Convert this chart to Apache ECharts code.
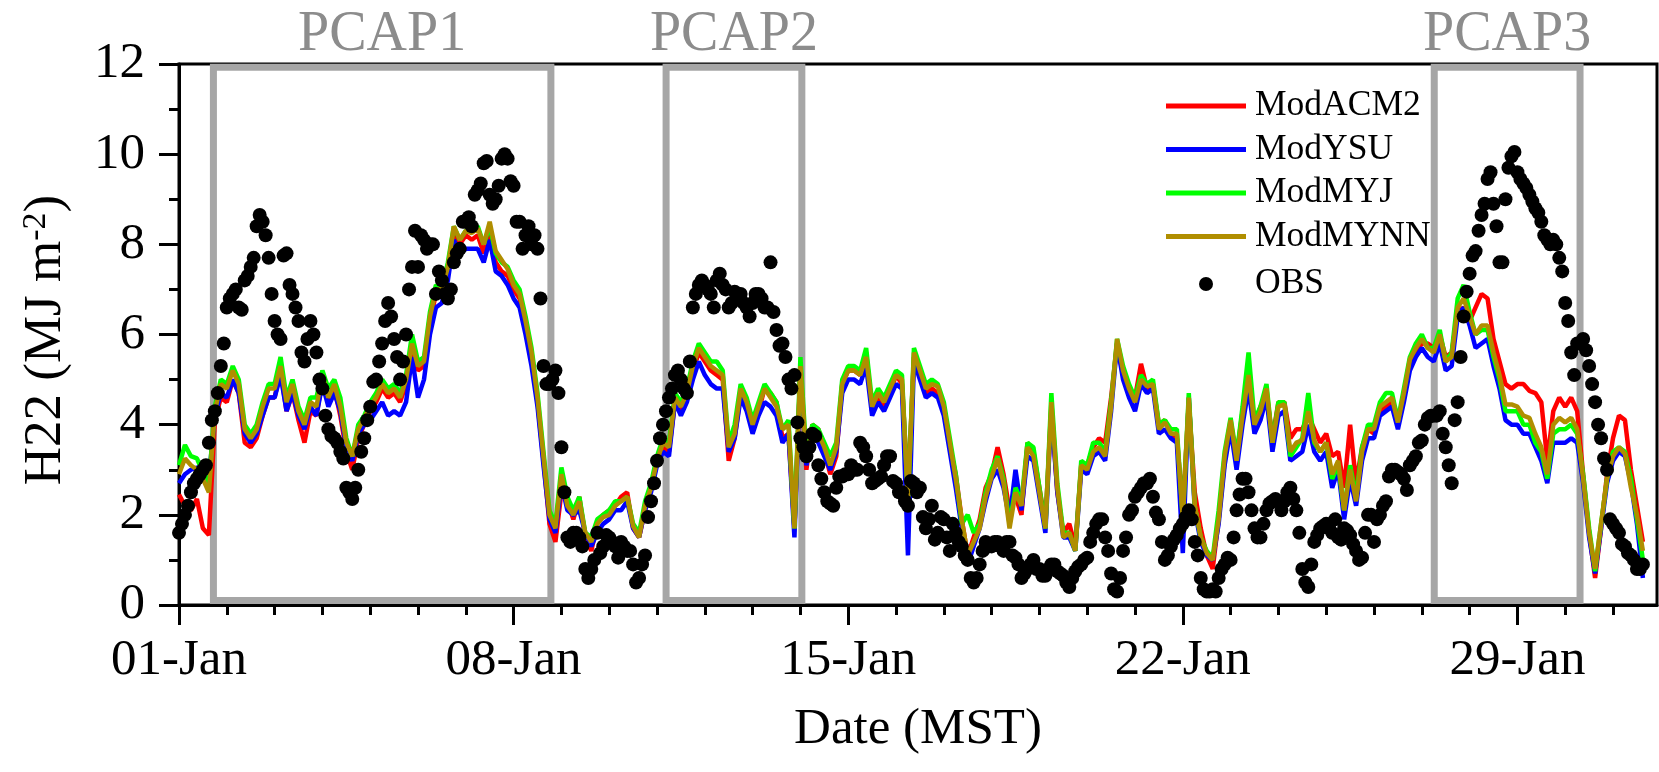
<!DOCTYPE html>
<html><head><meta charset="utf-8">
<script src="https://cdn.jsdelivr.net/npm/echarts@6/dist/echarts.min.js"></script>
<style>html,body{margin:0;padding:0;background:#fff}#c{width:1659px;height:772px}</style>
</head><body><div id="c"></div>
<script>
// model samples every 3 hours from 01-Jan 00:00 (MST); x = days since 01-Jan
const STEP_DAYS = 0.125;
const X_MAX_DAYS = 30.92;
const tickLabels = ['01-Jan','08-Jan','15-Jan','22-Jan','29-Jan'];
const tickDays = [0,7,14,21,28];
const pcapNames = ['PCAP1','PCAP2','PCAP3'];
const pcapStart = [0.72, 10.19, 26.26];
const pcapEnd = [7.78, 13.03, 29.31];
const pcapTop = 11.93, pcapBottom = 0.1;

const modACM2 = [
2.45,2.2,2.1,2.35,1.7,1.55,4.1,4.6, 4.5,5.0,4.7,3.6,3.5,3.7,4.2,4.6,
4.6,5.2,4.3,4.7,4.1,3.6,4.3,4.2, 5.0,4.5,4.8,4.2,3.4,3.0,3.7,4.0,
4.3,4.5,4.8,4.6,4.7,4.5,4.9,5.7, 5.2,5.3,6.3,6.9,6.9,7.4,8.3,8.0,
8.2,8.1,8.2,7.8,8.3,7.6,7.4,7.3, 7.0,6.8,6.2,5.5,4.5,3.2,1.8,1.4,
2.5,2.3,1.9,2.4,1.5,1.2,1.8,2.0, 2.1,2.2,2.4,2.5,1.7,1.5,2.1,2.6,
3.2,3.5,3.4,4.5,4.3,4.6,5.2,5.6, 5.4,5.2,5.1,5.0,3.2,3.7,4.7,4.4,
3.9,4.3,4.8,4.7,4.5,3.7,3.8,1.7, 5.2,3.0,4.0,3.9,3.4,2.9,3.3,4.9,
5.2,5.2,5.1,5.6,4.3,4.6,4.4,4.7, 5.1,4.9,2.5,5.5,5.1,4.7,4.8,4.7,
4.3,3.5,2.9,1.9,1.1,1.5,1.9,2.6, 2.9,3.5,2.9,2.1,2.4,2.0,3.6,3.4,
2.6,1.8,4.4,2.5,1.6,1.8,1.3,3.1, 3.1,3.5,3.7,3.6,4.6,5.8,5.1,4.8,
4.6,5.35,4.8,4.9,4.0,4.1,3.8,3.7, 2.1,4.5,2.5,1.7,1.1,0.8,1.9,3.2,
4.0,3.3,4.3,5.0,4.0,4.4,4.7,3.7, 4.5,4.5,3.7,3.9,3.9,4.2,3.9,3.6,
3.8,3.3,3.4,2.6,4.0,2.7,3.5,3.9, 3.8,4.3,4.4,4.5,4.0,4.6,5.4,5.6,
5.8,5.8,5.7,6.0,5.5,5.6,6.5,6.6, 6.3,6.6,6.9,6.8,5.9,5.4,4.9,4.8,
4.9,4.9,4.75,4.7,4.5,3.2,4.3,4.6, 4.4,4.6,4.3,2.9,1.6,0.6,1.7,2.9,
3.7,4.2,4.1,3.0,2.2,1.4];

const modYSU = [
2.7,2.9,3.0,3.05,2.95,2.8,4.2,4.7, 4.6,5.0,4.7,3.8,3.6,3.8,4.2,4.6,
4.6,5.1,4.3,4.7,4.2,3.9,4.4,4.2, 4.9,4.4,4.7,4.3,3.5,3.2,3.8,4.0,
4.1,4.3,4.5,4.2,4.3,4.2,4.5,5.5, 4.6,5.0,6.0,6.6,6.7,7.2,8.1,7.8,
7.9,7.9,7.9,7.6,8.1,7.4,7.3,7.1, 6.8,6.6,6.0,5.3,4.4,3.1,1.9,1.6,
2.7,2.1,2.0,2.1,1.6,1.3,1.6,1.8, 1.9,2.1,2.1,2.3,1.7,1.5,2.1,2.5,
3.1,3.4,3.3,4.5,4.2,4.5,5.0,5.4, 5.1,4.9,4.8,4.8,3.4,3.7,4.6,4.3,
3.8,4.2,4.5,4.4,4.2,3.6,3.8,1.5, 5.2,3.1,3.8,3.6,3.3,3.0,3.4,4.7,
5.0,5.0,4.9,5.3,4.2,4.5,4.3,4.6, 4.9,4.8,1.1,5.4,5.0,4.6,4.7,4.6,
4.2,3.4,2.6,1.7,0.9,1.3,1.7,2.3, 2.8,3.0,2.6,1.9,3.0,2.1,3.3,3.2,
2.4,1.6,4.3,2.5,1.5,1.5,1.2,3.0, 2.9,3.3,3.4,3.2,4.3,5.8,5.0,4.6,
4.3,4.9,4.7,4.8,3.8,3.9,3.7,3.6, 1.15,4.6,2.1,1.4,1.1,1.0,1.8,3.1,
3.9,3.0,4.0,4.8,3.8,4.1,4.6,3.4, 4.2,4.3,3.2,3.3,3.4,4.0,3.4,3.2,
3.4,2.6,3.0,1.9,2.8,2.2,3.2,3.7, 3.7,4.2,4.3,4.4,3.9,4.5,5.2,5.5,
5.7,5.5,5.4,5.8,5.2,5.3,6.4,6.6, 6.2,5.7,5.8,5.9,5.3,4.8,4.1,4.0,
4.0,3.8,3.8,3.5,3.2,2.7,3.6,3.6, 3.6,3.7,3.6,2.7,1.5,0.7,1.7,2.7,
3.2,3.4,3.3,2.7,1.8,0.6];

const modMYJ = [
3.1,3.55,3.3,3.25,2.95,2.7,4.4,5.0, 4.9,5.3,5.0,4.0,3.8,4.0,4.5,4.9,
4.9,5.5,4.6,5.0,4.4,4.1,4.6,4.6, 5.2,4.8,5.0,4.6,3.7,3.3,4.0,4.2,
4.5,4.7,5.0,4.8,4.9,4.7,5.1,6.0, 5.4,5.5,6.5,7.1,7.0,7.6,8.4,8.1,
8.3,8.3,8.4,8.0,8.4,7.8,7.6,7.5, 7.2,7.0,6.4,5.7,4.7,3.4,2.1,1.8,
3.05,2.4,2.1,2.4,1.6,1.5,1.9,2.0, 2.1,2.3,2.3,2.4,1.8,1.6,2.3,2.7,
3.3,3.7,3.6,4.7,4.5,4.8,5.4,5.8, 5.6,5.4,5.4,5.2,3.6,4.0,4.9,4.6,
4.1,4.5,4.9,4.7,4.5,3.9,4.1,1.7, 5.5,3.3,4.0,3.9,3.6,3.3,3.6,5.0,
5.3,5.3,5.2,5.7,4.5,4.8,4.6,4.9, 5.2,5.1,2.3,5.7,5.3,4.9,5.0,4.9,
4.5,3.7,2.9,1.8,2.0,1.6,1.8,2.5, 3.0,3.3,2.8,1.8,2.6,2.3,3.6,3.5,
2.6,1.7,4.7,2.7,1.6,1.6,1.2,3.2, 3.1,3.6,3.6,3.4,4.5,5.9,5.3,4.9,
4.6,5.1,4.9,5.0,4.0,4.1,3.9,3.9, 1.9,4.7,2.2,1.5,1.2,1.05,2.1,3.4,
4.15,3.3,4.4,5.6,4.1,4.4,4.9,3.6, 4.5,4.5,3.3,3.5,3.7,4.7,3.6,3.4,
3.6,2.8,3.1,2.1,3.1,2.4,3.5,4.0, 4.0,4.5,4.7,4.7,4.1,4.8,5.5,5.8,
6.0,5.7,5.7,6.1,5.4,5.6,6.8,7.1, 6.5,6.0,6.1,6.1,5.5,5.0,4.3,4.3,
4.3,4.0,4.0,3.6,3.4,2.8,3.8,3.9, 3.9,4.0,3.8,2.9,1.7,0.75,1.8,2.8,
3.4,3.5,3.4,2.8,1.9,1.0];

const modMYNN = [
2.9,3.25,3.1,3.0,2.8,2.5,4.3,4.9, 4.8,5.2,4.9,3.9,3.7,3.9,4.4,4.8,
4.8,5.3,4.5,4.9,4.3,4.0,4.5,4.4, 5.1,4.6,4.9,4.4,3.6,3.3,3.9,4.15,
4.4,4.6,4.9,4.7,4.8,4.6,5.0,5.8, 5.3,5.4,6.4,7.0,7.0,7.5,8.4,8.1,
8.3,8.25,8.35,8.0,8.5,7.85,7.65,7.45, 7.1,6.9,6.3,5.6,4.6,3.3,2.0,1.7,
2.9,2.2,2.0,2.3,1.6,1.4,1.8,1.95, 2.0,2.2,2.3,2.4,1.75,1.5,2.2,2.6,
3.2,3.6,3.5,4.6,4.4,4.7,5.3,5.7, 5.5,5.3,5.2,5.1,3.5,3.8,4.8,4.5,
4.0,4.4,4.8,4.6,4.4,3.9,4.0,1.7, 5.3,3.2,3.9,3.8,3.5,3.1,3.5,4.9,
5.2,5.2,5.1,5.5,4.4,4.7,4.5,4.8, 5.1,5.0,2.3,5.6,5.2,4.8,4.9,4.85,
4.4,3.6,2.8,1.9,1.1,1.4,1.7,2.4, 2.85,3.25,2.7,1.7,2.5,2.2,3.5,3.3,
2.5,1.7,4.5,2.6,1.5,1.6,1.2,3.1, 3.0,3.4,3.5,3.3,4.4,5.9,5.2,4.8,
4.5,5.0,4.85,4.9,3.9,4.05,3.8,3.8, 1.9,4.6,2.2,1.5,1.15,1.0,1.9,3.3,
4.1,3.2,4.2,5.1,4.0,4.3,4.8,3.6, 4.4,4.45,3.4,3.6,3.65,4.3,3.65,3.4,
3.6,2.9,3.2,2.1,3.0,2.3,3.4,3.9, 3.9,4.4,4.5,4.6,4.05,4.7,5.45,5.7,
5.9,5.7,5.6,6.0,5.4,5.5,6.6,6.8, 6.4,6.0,6.2,6.2,5.6,5.1,4.45,4.45,
4.4,4.2,4.15,3.8,3.5,2.9,4.0,4.15, 4.05,4.15,3.9,2.8,1.6,0.8,1.8,2.8,
3.3,3.5,3.35,2.6,2.0,1.2];

// observations read on the 3-hour grid ...
const obs = [
1.6,2.0,2.5,2.8,3.0,3.6,4.3,5.3, 6.6,6.9,6.6,7.2,7.5,8.4,8.5,7.7,
6.3,5.9,7.8,6.9,6.3,5.4,6.3,5.6, 4.8,3.9,3.7,3.4,2.6,2.35,3.0,3.7,
4.4,5.0,5.8,6.7,5.9,5.0,6.0,7.5, 7.5,8.1,8.0,6.9,7.2,6.8,7.6,7.9,
8.5,8.4,9.2,9.8,9.1,9.0,9.9,9.9, 9.3,8.5,8.2,8.0,7.9,5.3,4.9,5.2,
3.5,1.5,1.6,1.5,0.8,0.8,1.6,1.3, 1.5,1.3,1.4,1.2,0.9,0.6,1.1,2.3,
3.2,4.0,4.6,5.1,5.0,4.7,6.6,7.1, 7.1,6.9,7.2,7.1,6.6,6.95,6.9,6.6,
6.7,6.9,6.6,7.6,6.1,5.8,5.0,5.1, 3.7,3.3,3.8,3.1,2.5,2.25,2.6,2.85,
2.9,3.0,3.6,3.3,2.7,2.8,3.1,3.3, 2.7,2.5,2.2,2.7,2.6,1.7,2.2,1.6,
1.9,1.2,1.6,1.3,1.0,0.5,0.9,1.4, 1.3,1.4,1.2,1.4,1.05,0.6,0.8,1.0,
0.8,0.65,0.9,0.75,0.65,0.4,0.75,0.9, 1.05,1.6,1.9,1.5,0.7,0.3,1.2,2.0,
2.4,2.6,2.7,2.4,1.9,1.0,1.3,1.55, 1.8,2.1,1.4,0.6,0.3,0.35,0.6,0.9,
1.0,2.1,2.8,2.5,1.7,1.5,2.1,2.3, 2.3,2.3,2.6,2.1,0.8,0.4,1.4,1.7,
1.8,1.6,1.5,1.7,1.55,1.2,1.05,2.0, 1.4,2.0,2.3,3.0,2.95,2.8,3.1,3.3,
3.65,4.15,4.2,4.3,3.5,2.7,4.5,6.4, 7.35,7.85,8.65,9.45,8.9,7.6,9.0,9.95,
9.6,9.35,9.1,8.8,8.5,8.1,8.1,7.7, 6.7,5.6,5.8,5.9,5.3,4.5,3.7,3.0,
1.8,1.6,1.3,1.1,0.8,0.9];
// ... and the observations read half-way between those grid times
const obsMid = [
1.8,2.2,2.7,2.9,3.1,4.1,4.7,5.8, 6.8,7.0,6.55,7.3,7.7,8.65,8.2,6.9,
6.0,7.75,7.1,6.6,5.6,5.9,6.0,5.0, 4.2,3.75,3.6,3.25,2.5,2.6,3.4,4.1,
4.95,5.4,6.3,6.4,5.5,5.4,7.0,8.3, 8.2,7.9,8.0,7.4,6.9,7.0,7.8,8.5,
8.6,9.1,9.35,9.85,8.9,9.3,10.0,9.4, 8.5,7.9,8.4,8.2,6.8,4.9,5.0,4.7,
2.5,1.4,1.6,1.3,0.6,1.0,1.15,1.55, 1.4,1.05,1.3,1.2,0.5,0.9,1.95,2.7,
3.7,4.3,4.8,5.2,4.8,5.4,6.9,7.2, 7.0,6.6,7.35,7.0,6.7,6.9,6.7,6.4,
6.9,6.8,6.6,6.5,5.75,5.5,4.8,4.05, 3.5,3.5,3.75,2.8,2.3,2.2,2.85,2.9,
3.1,3.0,3.5,3.0,2.75,2.85,3.3,2.75, 2.5,2.3,2.75,2.5,1.95,1.9,1.45,1.95,
1.5,1.8,1.4,1.1,0.6,0.6,1.2,1.3, 1.4,1.3,1.4,1.1,0.9,0.7,0.9,0.8,
0.65,0.8,0.9,0.7,0.5,0.6,0.85,1.0, 1.4,1.8,1.9,1.2,0.35,0.6,1.5,2.1,
2.5,2.7,2.8,2.05,1.4,1.1,1.45,1.7, 1.95,1.9,1.1,0.35,0.3,0.3,0.8,1.05,
1.5,2.45,2.8,2.1,1.5,1.8,2.25,2.35, 2.1,2.5,2.35,1.6,0.5,0.9,1.55,1.75,
1.7,1.9,1.45,1.65,1.35,1.0,1.6,2.0, 1.9,2.2,2.85,3.0,2.9,2.55,3.2,3.6,
4.0,4.2,4.2,3.8,3.1,4.1,5.5,6.95, 7.75,8.3,8.9,9.6,8.4,7.6,9.7,10.05,
9.45,9.25,8.95,8.7,8.2,8.0,8.0,7.4, 6.3,5.1,5.8,5.65,4.9,4.0,3.25,1.9,
1.7,1.35,1.15,1.0,0.8];

const FONT = 'Liberation Serif';
const toXY = arr => arr.map((v, i) => [i * STEP_DAYS, v]);
const obsXY = [];
obs.forEach((v, i) => {
  obsXY.push([i * STEP_DAYS, v]);
  if (i < obsMid.length) obsXY.push([(i + 0.5) * STEP_DAYS, obsMid[i]]);
});
const minorDays = [];
for (let d = 1; d < X_MAX_DAYS; d++) if (tickDays.indexOf(d) < 0) minorDays.push(d);

const lineSeries = (name, data, color) => ({
  name, type: 'line', data: toXY(data), symbol: 'none', showSymbol: false,
  lineStyle: { color, width: 4.5 }, itemStyle: { color }, animation: false
});

const legendText = { fontSize: 35.5, fontFamily: FONT, color: '#000', lineHeight: 35.5, padding: [0, 0, 0, 4] };

const chart = echarts.init(document.getElementById('c'), null, { renderer: 'canvas' });
chart.setOption({
  animation: false,
  backgroundColor: '#fff',
  textStyle: { fontFamily: FONT },
  grid: { left: 179, right: 2, top: 64, bottom: 167, show: true, borderColor: '#000', borderWidth: 3 },
  xAxis: [{
    type: 'value', min: 0, max: X_MAX_DAYS, position: 'bottom',
    axisLine: { show: true, lineStyle: { color: '#000', width: 3 } },
    axisTick: { show: true, customValues: tickDays, length: 20, lineStyle: { color: '#000', width: 3 } },
    axisLabel: { customValues: tickDays, formatter: v => tickLabels[tickDays.indexOf(Math.round(v))] || '',
      fontSize: 51, fontFamily: FONT, color: '#000', margin: 30 },
    splitLine: { show: false }
  }, {
    type: 'value', min: 0, max: X_MAX_DAYS, position: 'bottom',
    axisLine: { show: false },
    axisTick: { show: true, customValues: minorDays, length: 10, lineStyle: { color: '#000', width: 3 } },
    axisLabel: { show: false }, splitLine: { show: false }
  }],
  yAxis: {
    type: 'value', min: 0, max: 12, interval: 2,
    axisLine: { show: true, lineStyle: { color: '#000', width: 3 } },
    axisTick: { show: true, length: 20, lineStyle: { color: '#000', width: 3 } },
    minorTick: { show: true, splitNumber: 2, length: 10, lineStyle: { color: '#000', width: 3 } },
    axisLabel: { fontSize: 51, fontFamily: FONT, color: '#000', margin: 34 },
    splitLine: { show: false }, minorSplitLine: { show: false }
  },
  legend: [{
    orient: 'vertical', left: 1166, top: 88, padding: 0,
    itemWidth: 80, itemHeight: 5, itemGap: 7.5, icon: 'rect',
    textStyle: legendText,
    data: ['ModACM2', 'ModYSU', 'ModMYJ', 'ModMYNN']
  }, {
    orient: 'vertical', left: 1199, top: 266, padding: 0,
    itemWidth: 14, itemHeight: 14, icon: 'circle',
    textStyle: Object.assign({}, legendText, { padding: [0, 0, 0, 37] }),
    data: ['OBS']
  }],
  graphic: [{
    type: 'text', x: 46, y: 340, rotation: Math.PI / 2, silent: true,
    style: { text: 'H22 (MJ m{sup|-2})', fontSize: 53, fontFamily: FONT, fill: '#000',
      align: 'center', verticalAlign: 'middle', lineHeight: 53,
      rich: { sup: { fontSize: 34, fontFamily: FONT, fill: '#000', lineHeight: 10, verticalAlign: 'top' } } }
  }, {
    type: 'text', x: 918, y: 730, silent: true,
    style: { text: 'Date (MST)', fontSize: 51, fontFamily: FONT, fill: '#000', align: 'center', verticalAlign: 'middle' }
  }],
  series: [
    lineSeries('ModACM2', modACM2, '#ff0000'),
    lineSeries('ModYSU', modYSU, '#0000ff'),
    lineSeries('ModMYJ', modMYJ, '#00ff00'),
    lineSeries('ModMYNN', modMYNN, '#b08e00'),
    {
      name: 'OBS', type: 'scatter', data: obsXY, symbol: 'circle', symbolSize: 14,
      itemStyle: { color: '#000', opacity: 1 }, z: 3,
      markArea: {
        silent: true,
        itemStyle: { color: 'rgba(0,0,0,0)', borderColor: '#a6a6a6', borderWidth: 7 },
        label: { show: true, position: 'top', distance: 0, color: '#8c8c8c', fontSize: 56, fontFamily: FONT },
        data: pcapNames.map((n, k) => [
          { name: n, xAxis: pcapStart[k], yAxis: pcapTop },
          { xAxis: pcapEnd[k], yAxis: pcapBottom }
        ])
      }
    }
  ]
});
</script></body></html>
